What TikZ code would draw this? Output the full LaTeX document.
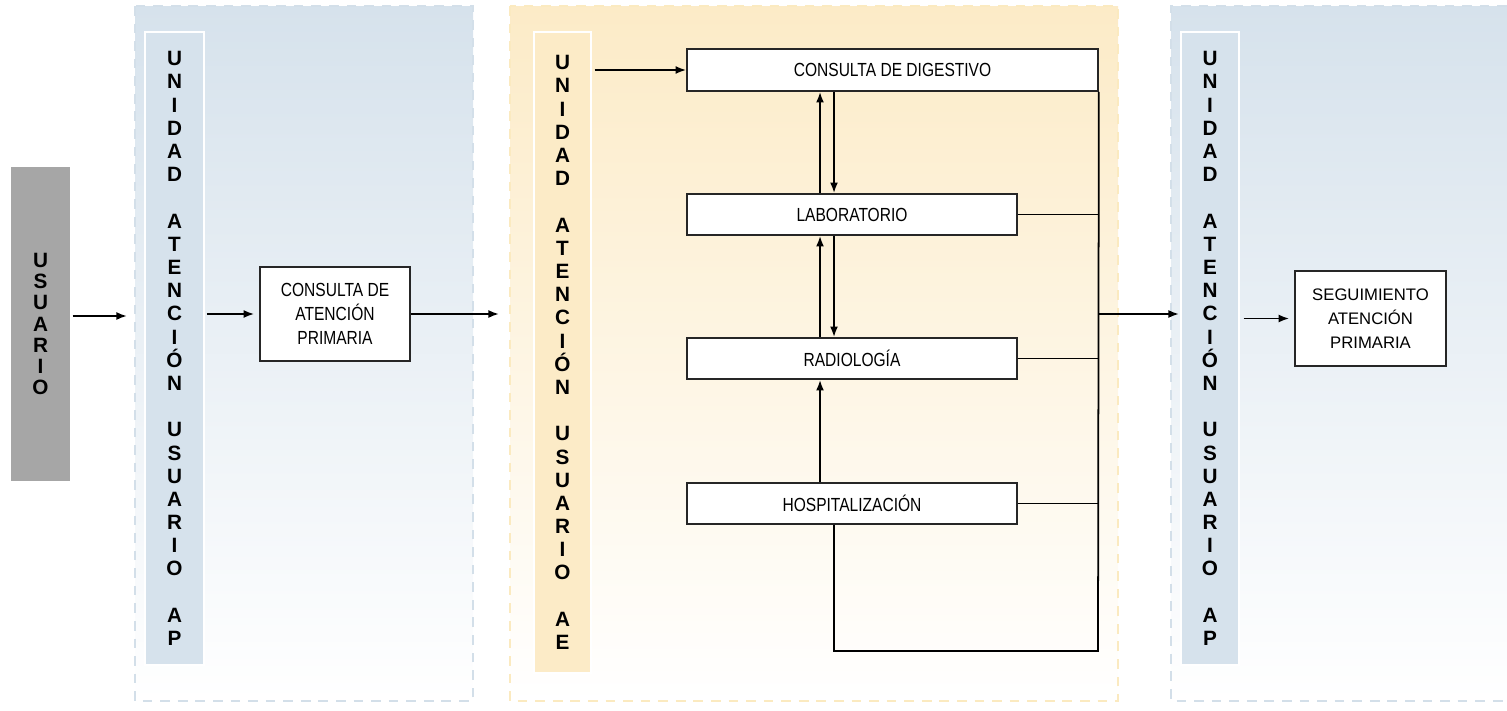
\documentclass[tikz,border=0pt]{standalone}
\usepackage{fontspec}
\setmainfont{Liberation Sans}
\newfontfamily\narrowfont[FakeStretch=0.82]{Liberation Sans}
\usetikzlibrary{arrows.meta}
\definecolor{apblue}{HTML}{D6E2EC}
\definecolor{apdash}{HTML}{D3DFE9}
\definecolor{aeyellow}{HTML}{FCEBC7}
\definecolor{aedash}{HTML}{FBEAC0}
\definecolor{usergray}{HTML}{A6A6A6}
\begin{document}
\begin{tikzpicture}[x=0.02cm,y=-0.02cm,->,>={Latex[length=6pt,width=4.5pt]},line width=1pt,
    box node/.style={draw=black!85,fill=white,line width=1pt,inner sep=0pt,align=center,font=\narrowfont\fontsize{10.8}{13.7}\selectfont},
    strip node/.style={draw=white,line width=1.2pt,inner sep=0pt,align=center,font=\bfseries\fontsize{11.8}{13.2}\selectfont},
    panel/.style={-,dash pattern=on 5.5pt off 4.5pt,line width=1.6pt}]
    \useasboundingbox (0,0) rectangle (1507,710);
    % panels
    \shade[top color=apblue,bottom color=white] (135,6) rectangle (473,701);
    \draw[panel,draw=apdash] (135,6) rectangle (473,701);
    \shade[top color=aeyellow,bottom color=white] (510,6) rectangle (1118,701);
    \draw[panel,draw=aedash] (510,6) rectangle (1118,701);
    \shade[top color=apblue,bottom color=white] (1171,6) rectangle (1507,701);
    \draw[panel,draw=apdash] (1507,6) -- (1171,6) -- (1171,701) -- (1507,701);
    % nodes
    \node[fill=usergray,minimum width=1.18cm,minimum height=6.28cm,inner sep=0pt,align=center,font=\bfseries\fontsize{11.8}{12.1}\selectfont] (usuario) at (40.5,324) {U\\S\\U\\A\\R\\I\\O};
    \node[strip node,fill=apblue,minimum width=1.18cm,minimum height=12.66cm] (apL) at (174.5,348.5) {U\\N\\I\\D\\A\\D\\~\\A\\T\\E\\N\\C\\I\\Ó\\N\\~\\U\\S\\U\\A\\R\\I\\O\\~\\A\\P};
    \node[box node,minimum width=3cm,minimum height=1.88cm] (cap) at (335,314) {CONSULTA DE\\ATENCIÓN\\PRIMARIA};
    \node[strip node,fill=aeyellow,minimum width=1.14cm,minimum height=12.82cm] (aeM) at (562.5,352.5) {U\\N\\I\\D\\A\\D\\~\\A\\T\\E\\N\\C\\I\\Ó\\N\\~\\U\\S\\U\\A\\R\\I\\O\\~\\A\\E};
    \node[box node,minimum width=8.22cm,minimum height=0.84cm] (dig) at (892.5,70) {CONSULTA DE DIGESTIVO};
    \node[box node,minimum width=6.6cm,minimum height=0.82cm] (lab) at (852,214.5) {LABORATORIO};
    \node[box node,minimum width=6.6cm,minimum height=0.82cm] (rad) at (852,358.5) {RADIOLOGÍA};
    \node[box node,minimum width=6.6cm,minimum height=0.82cm] (hosp) at (852,503.5) {HOSPITALIZACIÓN};
    \node[strip node,fill=apblue,minimum width=1.16cm,minimum height=12.66cm] (apR) at (1210,348.5) {U\\N\\I\\D\\A\\D\\~\\A\\T\\E\\N\\C\\I\\Ó\\N\\~\\U\\S\\U\\A\\R\\I\\O\\~\\A\\P};
    \node[box node,font=\fontsize{9.5}{13.7}\selectfont,minimum width=3.02cm,minimum height=1.9cm] (seg) at (1370.5,318.5) {SEGUIMIENTO\\ATENCIÓN\\PRIMARIA};
    % connectors
    \coordinate (inL) at (127,316);
    \coordinate (inM) at (499,316);
    \coordinate (up) at (820,0);
    \coordinate (dn) at (834,0);
    \coordinate (loop) at (1098,651);
    \coordinate (outR) at (1179,314);
    \draw[shorten <=1pt] (usuario.east |- inL) -- (inL);
    \draw[shorten <=1pt,shorten >=2.8pt] (apL.east |- cap) -- (cap);
    \draw (cap) -- (cap -| inM);
    \draw[shorten <=1.5pt] (aeM.east |- dig) -- (dig);
    \draw (lab.north -| up) -- (dig.south -| up);
    \draw (dig.south -| dn) -- (lab.north -| dn);
    \draw (rad.north -| up) -- (lab.south -| up);
    \draw (lab.south -| dn) -- (rad.north -| dn);
    \draw (hosp.north -| up) -- (rad.south -| up);
    \draw[-] (dig.south east) -- (loop) -| (hosp.south -| dn);
    \draw[-] (lab) -- (lab -| loop);
    \draw[-] (rad) -- (rad -| loop);
    \draw[-] (hosp) -- (hosp -| loop);
    \draw (loop |- outR) -- (outR);
    \draw[shorten <=2pt,shorten >=2.8pt] (apR.east |- seg) -- (seg);
\end{tikzpicture}
\end{document}
